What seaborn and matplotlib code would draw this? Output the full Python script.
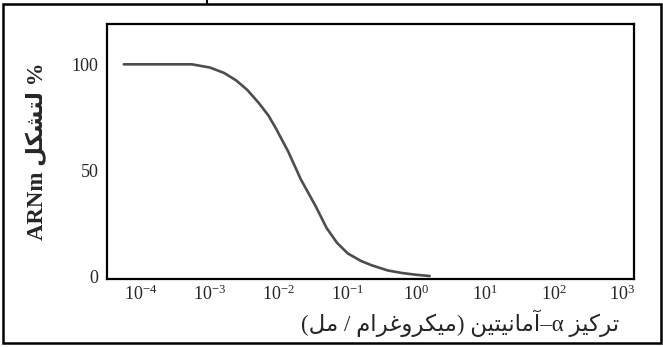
import matplotlib

matplotlib.use("Agg")
import matplotlib.pyplot as plt
from matplotlib.lines import Line2D
from matplotlib.patches import Rectangle
import pandas as pd
import seaborn as sns

# Curve (concentration in ug/ml, % mRNA formation)
concentration = [5.6e-5, 3.2e-4, 5.5e-4, 1.0e-3, 1.6e-3, 2.4e-3, 3.5e-3,
                 5.1e-3, 7.1e-3, 9.1e-3, 1.38e-2, 2.1e-2, 3.5e-2, 5.0e-2,
                 7.1e-2, 1.02e-1, 1.58e-1, 2.24e-1, 3.9e-1, 6.3e-1, 1.0, 1.58]
formation = [100, 100, 100, 98.5, 96, 92.5, 88, 82, 76, 70, 59, 46, 33, 23,
             16, 11, 7.5, 5.5, 3, 1.8, 1.0, 0.4]
x_ticks = [1e-4, 1e-3, 1e-2, 1e-1, 1e0, 1e1, 1e2, 1e3]
y_ticks = [0, 50, 100]

# --- minimal Arabic shaping (matplotlib does no bidi / joining) ---
FORMS = {
    "ا": ("\ufe8d", "\ufe8e", None, None),
    "آ": ("\ufe81", "\ufe82", None, None),
    "ت": ("\ufe95", "\ufe96", "\ufe97", "\ufe98"),
    "ر": ("\ufead", "\ufeae", None, None),
    "ز": ("\ufeaf", "\ufeb0", None, None),
    "ك": ("\ufed9", "\ufeda", "\ufedb", "\ufedc"),
    "ي": ("\ufef1", "\ufef2", "\ufef3", "\ufef4"),
    "م": ("\ufee1", "\ufee2", "\ufee3", "\ufee4"),
    "ن": ("\ufee5", "\ufee6", "\ufee7", "\ufee8"),
    "غ": ("\ufecd", "\ufece", "\ufecf", "\ufed0"),
    "و": ("\ufeed", "\ufeee", None, None),
    "ل": ("\ufedd", "\ufede", "\ufedf", "\ufee0"),
    "ش": ("\ufeb5", "\ufeb6", "\ufeb7", "\ufeb8"),
}


def ar(word):
    out = []
    for i, ch in enumerate(word):
        iso, fin, ini, med = FORMS[ch]
        prev_joins = i > 0 and FORMS[word[i - 1]][2] is not None
        next_joins = ini is not None and i < len(word) - 1
        if prev_joins and next_joins:
            out.append(med)
        elif prev_joins:
            out.append(fin)
        elif next_joins:
            out.append(ini)
        else:
            out.append(iso)
    return "".join(reversed(out))


x_label = ("(" + ar("مل") + " / " + ar("ميكروغرام") + ") "
           + ar("آمانيتين") + "–α " + ar("تركيز"))
y_label = "ARNm " + ar("لتشكل") + " %"

sns.set_style("white")
plt.rcParams["font.family"] = ["Liberation Serif", "DejaVu Sans"]
plt.rcParams["mathtext.fontset"] = "stix"

df = pd.DataFrame({"conc": concentration, "pct": formation})

fig = plt.figure(figsize=(6.63, 3.47), dpi=100)
ax = fig.add_axes([0.161, 0.196, 0.795, 0.735])
sns.lineplot(data=df, x="conc", y="pct", ax=ax, color="#4d4d4d", linewidth=1.9)

ax.set_xscale("log")
ax.set_xlim(10 ** -4.5, 10 ** 3.17)
ax.set_ylim(-1, 119)
ax.set_xticks(x_ticks)
ax.minorticks_off()
ax.set_yticks(y_ticks)
ax.tick_params(axis="x", direction="in", length=2.5, width=1.5,
               labelsize=13, pad=4, color="black")
ax.tick_params(axis="y", direction="in", length=5, width=1.2,
               labelsize=13, pad=6, color="black")
for side in ax.spines.values():
    side.set_color("black")
    side.set_linewidth(1.6)

ax.set_xlabel(x_label, fontsize=16.5)
ax.xaxis.set_label_coords(0.67, -0.118)
ax.set_ylabel(y_label, fontsize=16.5, fontweight="bold")
ax.yaxis.set_label_coords(-0.112, 0.5)

# outer table frame of the scanned page
fig.patches.append(Rectangle((3 / 663, 4 / 347), 658 / 663, 339 / 347,
                             transform=fig.transFigure, fill=False,
                             edgecolor="black", linewidth=1.8))
fig.lines.append(Line2D([207 / 663, 207 / 663], [343 / 347, 1.0],
                        transform=fig.transFigure, color="black", linewidth=1.5))

fig.savefig("out.png", dpi=100)
plt.close(fig)
